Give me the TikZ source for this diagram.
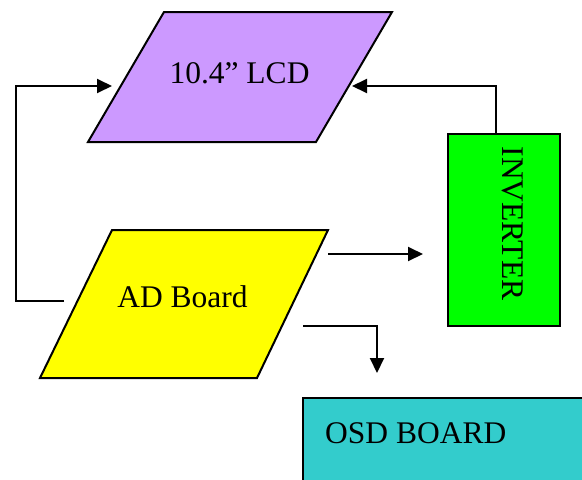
\documentclass[tikz,border=0pt]{standalone}
\usepackage{fontspec}
\setmainfont{Liberation Serif}
\usetikzlibrary{arrows.meta}
\definecolor{lcdc}{HTML}{CC99FF}
\definecolor{adc}{HTML}{FFFF00}
\definecolor{invc}{HTML}{00FF00}
\definecolor{osdc}{HTML}{33CCCC}
\tikzset{
  shapeline/.style={draw=black,line width=2pt,line join=miter},
  lbl/.style={inner sep=0pt,font=\fontsize{31.5}{36}\selectfont},
  conn/.style={draw=black,line width=2pt,-{Triangle[length=15pt,width=14pt]}},
  plain/.style={draw=black,line width=2pt}
}
\begin{document}
\begin{tikzpicture}[x=1pt,y=-1pt]
\useasboundingbox (0,0) rectangle (582,480);
% LCD
\path[shapeline,fill=lcdc] (164,12) -- (392,12) -- (316,142) -- (88,142) -- cycle;
\node[lbl,anchor=base] (lcd) at (239.5,83) {10.4” LCD};
% AD board
\path[shapeline,fill=adc] (112,230) -- (328,230) -- (257,378) -- (40,378) -- cycle;
\node[lbl,anchor=base] (ad) at (182.5,307) {AD Board};
% Inverter
\path[shapeline,fill=invc] (448,134) rectangle (560,326);
\node[lbl,anchor=base,rotate=-90] (inv) at (502,223.5) {INVERTER};
% OSD
\path[fill=osdc] (303,398) rectangle (584,482);
\draw[plain] (303,482) -- (303,398) -- (584,398);
\node[lbl,anchor=base west] (osd) at (325,443) {OSD BOARD};
% connector points
\coordinate (adL) at (64,301);
\coordinate (lcdL) at (112,86);
\coordinate (invT) at (496,134);
\coordinate (lcdR) at (352,86);
\coordinate (adR1) at (328,254);
\coordinate (invL) at (423,254);
\coordinate (adR2) at (303,326);
\coordinate (osdT) at (377,373);
% connectors
\draw[conn] (adL) -- (16,301) |- (lcdL);
\draw[conn] (invT) |- (lcdR);
\draw[conn] (adR1) -- (invL);
\draw[conn] (adR2) -| (osdT);
\end{tikzpicture}
\end{document}
